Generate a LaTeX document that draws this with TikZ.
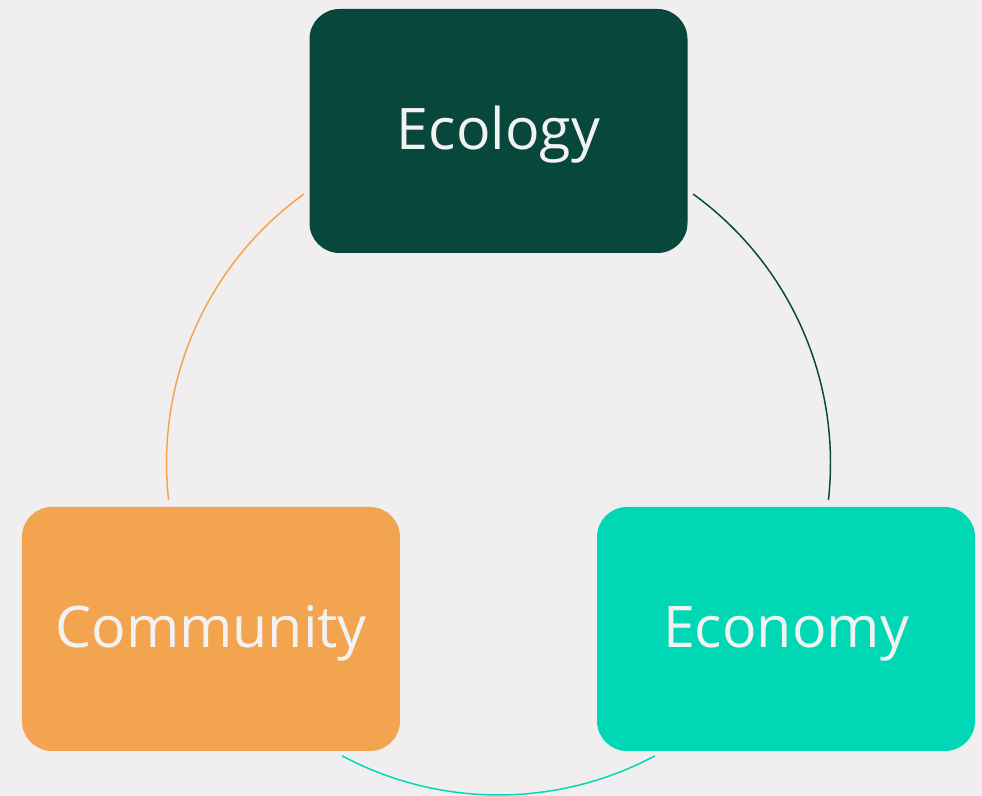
\documentclass[tikz,border=0pt]{standalone}
\usepackage{fontspec}
\setmainfont{Open Sans}
\definecolor{bggray}{HTML}{F0EEEE}
\definecolor{ecogreen}{HTML}{07473C}
\definecolor{commorange}{HTML}{F2A44F}
\definecolor{econteal}{HTML}{00D8B5}
\definecolor{boxtext}{HTML}{F2F2F2}
\tikzset{
        pillar/.style={rounded corners=22.5pt, minimum width=283.5pt, minimum height=183pt, inner sep=0pt, text=boxtext, font=\fontsize{43}{51}\selectfont, text height=32.7pt, text depth=4.3pt},
        ecology/.style={pillar, fill=ecogreen},
        community/.style={pillar, fill=commorange},
        economy/.style={pillar, fill=econteal},
        link/.style={line width=1.1pt}
          }

\begin{document}
\begin{tikzpicture}[x=0.75pt,y=0.75pt]
      \fill[bggray] (0,0) rectangle (982,796);
      \useasboundingbox (0,0) rectangle (982,796);
      \coordinate (c) at (498.5,333);
      % the three boxes sit on one circle
      \node[ecology] (eco) at ([shift={(90:332)}]c) {Ecology};
      \node[community] (comm) at ([shift={(210:332)}]c) {Community};
      \node[economy] (econ) at ([shift={(330:332)}]c) {Economy};
      % arcs between them
      \draw[link, commorange] ([shift={(125.9:332)}]c) arc[start angle=125.9, end angle=186.4, radius=332];
      \draw[link, ecogreen] ([shift={(54.1:332)}]c) arc[start angle=54.1, end angle=-6.4, radius=332];
      \draw[link, econteal] ([shift={(241.9:332)}]c) arc[start angle=241.9, end angle=298.1, radius=332];
    \end{tikzpicture}
\end{document}
